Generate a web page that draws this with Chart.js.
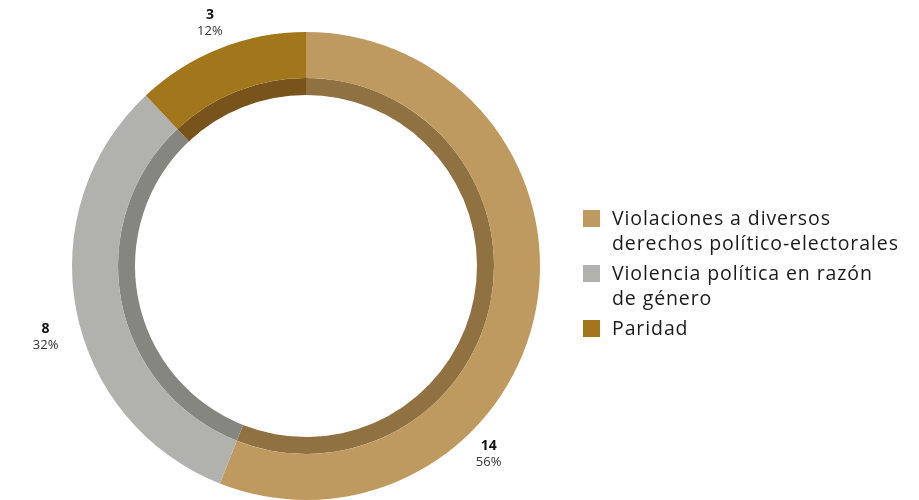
<!DOCTYPE html>
<html><head><meta charset="utf-8">
<script src="https://cdn.jsdelivr.net/npm/chart.js@4.4.1/dist/chart.umd.min.js"></script>
<style>
html,body{margin:0;padding:0;background:#fff;}
#wrap{position:relative;width:919px;height:500px;}
#legend{position:absolute;left:583px;top:206px;font-family:"Open Sans",sans-serif;font-size:19.5px;letter-spacing:0.9px;color:#1a1a1a;}
.li{display:flex;align-items:flex-start;margin-bottom:6px;line-height:24.5px;}
.sw{width:17px;height:17px;margin-top:4px;margin-right:12px;flex:none;}
</style></head><body>
<div id="wrap"><canvas id="c" width="919" height="500"></canvas><div id="legend"></div></div>
<script>
const categories = [["Violaciones a diversos","derechos político-electorales"],["Violencia política en razón","de género"],["Paridad"]];
const values = [14, 8, 3];
const percents = ["56%", "32%", "12%"];
const lightColors = ["#BE9A60", "#B1B1AD", "#A2761A"];
const darkColors = ["#8F7142", "#868681", "#78541C"];
const labelAngleShift = [35, -4.5, 0]; // degrees
const labelGap = [28, 36, 27];

const labelPlugin = {
  id: 'outerLabels',
  afterDatasetsDraw(chart) {
    const ctx = chart.ctx;
    const meta = chart.getDatasetMeta(0);
    meta.data.forEach((arc, i) => {
      const p = arc.getProps(['x','y','startAngle','endAngle','outerRadius'], true);
      const mid = (p.startAngle + p.endAngle) / 2 + labelAngleShift[i] * Math.PI / 180;
      const r = p.outerRadius + labelGap[i];
      const x = p.x + Math.cos(mid) * r;
      const y = p.y + Math.sin(mid) * r;
      ctx.save();
      ctx.textAlign = 'center';
      ctx.textBaseline = 'middle';
      ctx.fillStyle = '#111';
      ctx.font = 'bold 14px "Open Sans", sans-serif';
      ctx.fillText(String(values[i]), x, y - 8);
      ctx.fillStyle = '#333';
      ctx.font = '13px "Open Sans", sans-serif';
      ctx.fillText(percents[i], x, y + 8);
      ctx.restore();
    });
  }
};

const chart = new Chart(document.getElementById('c'), {
  type: 'doughnut',
  data: {
    labels: categories.map(c => c.join(' ')),
    datasets: [
      { data: values, backgroundColor: lightColors, borderWidth: 0, weight: 46 },
      { data: values, backgroundColor: darkColors, borderWidth: 0, weight: 17 }
    ]
  },
  options: {
    responsive: false,
    animation: false,
    cutout: 171,
    layout: { padding: { left: 72, right: 379, top: 32, bottom: 0 } },
    plugins: { legend: { display: false }, tooltip: { enabled: false } }
  },
  plugins: [labelPlugin]
});

const leg = document.getElementById('legend');
categories.forEach((c, i) => {
  const d = document.createElement('div'); d.className = 'li';
  const s = document.createElement('div'); s.className = 'sw'; s.style.background = lightColors[i];
  const t = document.createElement('div'); t.innerHTML = c.join('<br>');
  d.appendChild(s); d.appendChild(t); leg.appendChild(d);
});
</script></body></html>
